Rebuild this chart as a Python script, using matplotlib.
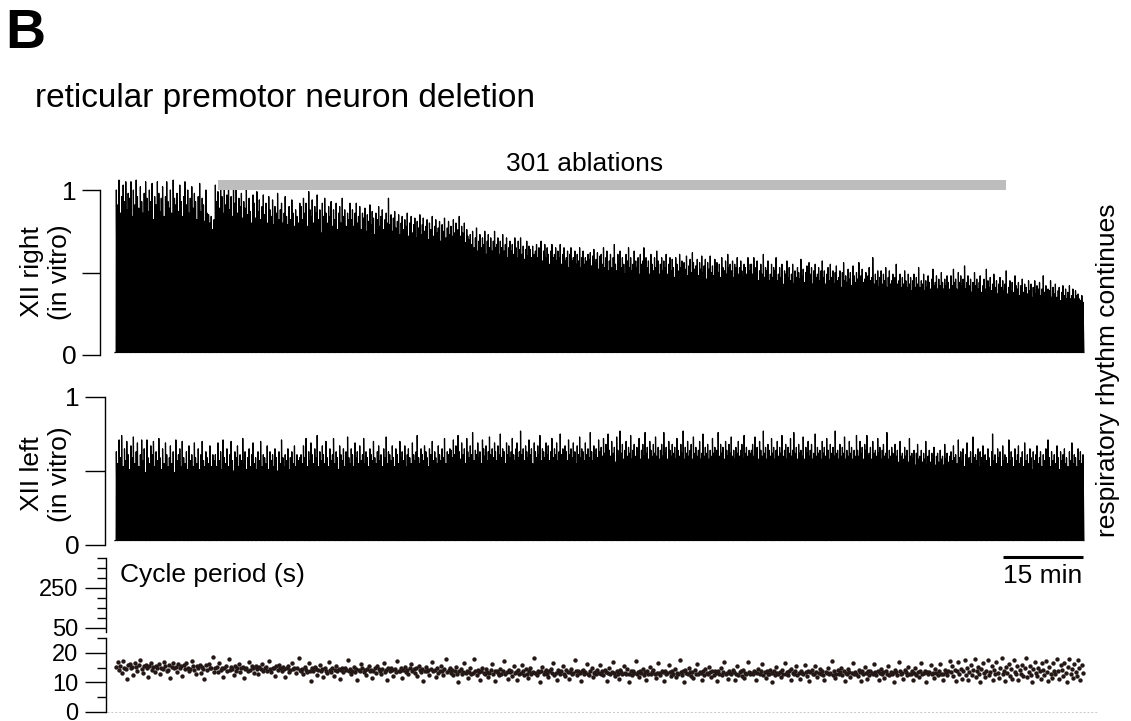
import numpy as np
import matplotlib
matplotlib.use('Agg')
import matplotlib.pyplot as plt

plt.rcParams['font.family'] = ['Liberation Sans', 'DejaVu Sans']

# cycle period of every respiratory burst (s), in recording order
cycle_period_s = [
    15.2, 16.8, 14.1, 15.6, 13.2, 17.1, 15.0, 14.4, 11.3, 15.8,
    16.2, 14.7, 15.3, 12.4, 16.5, 15.1, 14.0, 15.9, 17.4, 14.6,
    13.1, 15.4, 16.0, 14.8, 11.8, 15.5, 16.7, 14.3, 15.2, 13.6,
    15.7, 14.9, 16.3, 12.9, 15.0, 14.5, 17.0, 15.6, 13.9, 14.2,
    15.8, 11.5, 15.1, 16.4, 14.7, 15.3, 13.4, 16.1, 14.8, 15.5,
    12.2, 15.9, 14.4, 16.6, 15.0, 13.8, 14.6, 17.2, 15.4, 14.1,
    12.7, 15.7, 14.9, 16.0, 13.3, 15.2, 14.5, 11.1, 15.8, 14.3,
    16.2, 15.0, 14.7, 18.6, 13.5,
    14.8, 15.2, 13.6, 16.4, 14.1, 15.0, 11.9, 14.7, 15.5, 13.8,
    17.9, 14.3, 15.1, 14.6, 12.5, 15.7, 14.0, 14.9, 16.1, 13.4,
    14.8, 15.3, 11.4, 14.5, 15.0, 13.9, 16.8, 14.2, 15.4, 14.7,
    13.1, 15.6, 14.4, 12.8, 15.1, 14.6, 16.3, 13.7, 14.9, 15.2,
    14.0, 17.3, 14.5, 13.5, 15.0, 14.8, 12.1, 15.4, 14.3, 16.0,
    14.7, 13.8, 15.2, 14.4, 11.7, 14.9, 15.6, 13.6, 14.1, 16.6,
    14.5, 15.0, 13.3, 14.8, 18.1, 14.2,
    13.8, 14.6, 12.9, 15.1, 14.2, 13.5, 16.4, 14.0, 10.4, 14.7,
    13.9, 15.3, 14.4, 12.6, 14.1, 15.8, 13.7, 14.5, 11.9, 14.8,
    14.0, 13.3, 16.9, 14.3, 13.6, 14.9, 12.3, 14.2, 15.5, 13.8,
    14.6, 11.2, 14.1, 15.0, 13.4, 14.7, 14.3, 17.6, 13.9, 14.4,
    12.8, 14.0, 15.2, 13.6, 14.5, 10.8, 14.2, 13.7, 16.1, 14.8,
    13.5, 14.1, 12.4, 14.6, 15.4, 13.9, 14.3, 11.6, 14.0, 14.9,
    13.2, 15.7, 14.4, 13.8, 12.7, 14.5, 16.6, 13.6, 14.2, 10.9,
    14.7, 13.9, 15.0, 14.1, 12.2, 14.6, 13.4, 17.2, 14.0, 13.7,
    14.8, 11.5, 14.3, 15.3, 13.5, 14.2, 12.9, 14.9, 16.3, 13.8,
    14.4, 13.1, 14.7, 12.0, 15.6, 14.1, 13.6, 14.5, 10.6, 14.0,
    15.1, 13.9, 14.3, 12.5, 14.6, 16.8, 13.7, 14.2, 11.8, 14.8,
    13.3, 14.0, 15.4, 13.8, 12.6, 14.4, 17.9, 13.5, 14.1, 14.7,
    13.2, 14.1, 12.6, 13.8, 15.3, 13.0, 10.2, 13.7, 14.4, 12.9,
    13.5, 16.7, 13.1, 14.0, 11.4, 13.6, 14.8, 12.8, 13.3, 17.8,
    13.9, 12.4, 14.2, 13.4, 10.9, 13.8, 15.0, 13.1, 12.7, 14.5,
    13.6, 11.8, 13.2, 14.3, 16.2, 12.9, 13.7, 10.5, 14.0, 13.3,
    12.5, 14.6, 13.0, 13.9, 17.1, 12.8, 13.5, 11.2, 14.1, 13.4,
    13.8, 12.3, 15.4, 13.1, 13.6, 10.7, 14.2, 12.9, 13.3, 16.0,
    13.7, 12.6, 14.4, 13.0, 11.6, 13.9, 14.7, 12.8, 13.5, 18.2,
    13.2, 12.4, 14.0, 13.6, 10.3, 13.8, 15.2, 12.7, 13.4, 14.1,
    12.9, 11.9, 13.7, 14.5, 13.1, 16.5, 12.6, 13.3, 10.8, 14.3,
    13.5, 12.8, 13.9, 15.7, 13.0, 12.2, 14.1, 13.6, 11.3, 13.4,
    14.6, 12.9, 13.2, 17.4, 13.8, 12.5, 14.0, 13.1, 10.6, 13.7,
    14.2, 12.7, 13.5, 16.3, 13.0, 12.4, 13.9, 14.8, 11.7, 13.3,
    13.6, 12.8, 14.3, 13.1, 15.9,
    13.0, 13.8, 12.5, 14.2, 13.4, 10.4, 13.1, 14.9, 12.8, 13.6,
    16.8, 13.2, 12.3, 13.9, 13.0, 11.1, 14.1, 13.5, 12.7, 15.6,
    13.3, 12.9, 14.4, 13.0, 10.1, 13.7, 12.6, 14.0, 13.2, 17.3,
    12.8, 13.5, 11.8, 13.9, 13.1, 14.6, 12.4, 13.4, 10.9, 13.8,
    13.0, 15.2, 12.7, 13.6, 14.3, 12.9, 11.4, 13.3, 16.4, 13.1,
    12.5, 13.9, 13.4, 10.6, 14.0, 12.8, 13.2, 15.8, 13.6, 12.2,
    13.7, 13.0, 14.5, 11.7, 13.3, 12.9, 17.5, 13.5, 12.6, 13.8,
    10.3, 14.1, 13.1, 12.7, 14.8, 13.4, 12.3, 13.6, 11.5, 14.2,
    13.0, 16.1, 12.8, 13.5, 13.2, 10.8, 13.9, 12.5, 14.4, 13.1,
    12.9, 15.3, 13.4, 11.9, 13.7, 12.6, 14.0, 13.3, 10.5, 13.8,
    13.0, 14.7, 12.4, 13.5, 16.9, 12.8, 13.2, 11.3, 13.9, 13.1,
    12.7, 14.3, 13.6, 10.9, 13.0, 15.5, 12.5, 13.4, 13.8, 12.2,
    14.1, 11.6, 13.3, 12.9, 17.0, 13.5, 12.8,
    13.2, 12.7, 14.0, 13.5, 10.7, 13.1, 14.6, 12.9, 13.8, 16.2,
    12.6, 13.4, 11.5, 13.9, 13.0, 12.8, 14.3, 13.3, 10.2, 13.7,
    12.5, 15.1, 13.2, 12.9, 13.6, 11.8, 14.1, 13.0, 16.7, 12.7,
    13.5, 12.4, 13.9, 14.5, 10.9, 13.2, 12.8, 13.7, 15.4, 12.6,
    13.3, 11.2, 14.0, 13.1, 12.9, 16.0, 13.6, 12.3, 13.8, 10.5,
    13.4, 14.2, 12.7, 13.0, 15.7, 13.5, 11.9, 13.2, 14.4, 12.8,
    13.9, 12.5, 10.8, 13.6, 13.1, 14.8, 12.9, 13.3, 17.2, 12.6,
    13.7, 11.4, 13.0, 14.1, 12.8, 13.4, 15.0, 12.4, 13.8, 10.4,
    13.2, 12.9, 14.6, 13.5, 11.7, 13.1, 16.5, 12.7, 13.6, 13.0,
    12.3, 14.3, 13.4, 10.6, 13.9, 12.8, 15.3, 13.2, 11.1, 13.7,
    12.6, 14.0, 13.3, 12.9, 16.3, 13.5, 12.4, 13.8, 10.9, 13.1,
    14.5, 12.7, 13.4, 11.6, 13.9, 13.0, 15.6, 12.5, 13.6, 12.9,
    13.2, 10.3, 14.2, 13.4, 12.6, 17.0, 13.7, 12.8, 13.1, 11.3,
    14.1, 13.5, 12.4, 15.2, 13.0, 12.9, 13.8, 10.7, 13.3, 14.7,
    12.6, 13.5, 11.8, 13.9, 16.6, 12.8, 13.2, 14.0, 10.1, 13.6,
    12.7, 13.4, 15.8, 12.9, 13.1, 11.5, 14.4, 13.3, 12.5, 13.7,
    16.1, 12.8, 13.0, 10.8, 14.2, 13.5, 12.6, 13.9, 17.1,
    13.4, 15.6, 12.2, 14.1, 10.5, 13.7, 16.8, 12.9, 14.5, 11.3,
    13.9, 17.4, 12.6, 14.8, 10.9, 13.5, 15.9, 12.4, 14.2, 17.9,
    11.7, 13.8, 15.1, 12.8, 10.2, 14.6, 16.5, 13.1, 11.9, 14.0,
    17.7, 12.5, 13.6, 15.4, 10.7, 14.3, 12.9, 16.9, 13.2, 11.5,
    14.7, 18.2, 12.7, 13.9, 10.4, 15.2, 13.3, 16.3, 12.1, 14.4,
    11.0, 17.6, 13.6, 12.8, 15.7, 10.8, 14.1, 13.0, 16.0, 12.3,
    14.9, 18.4, 11.8, 13.4, 15.5, 12.6, 10.1, 14.6, 17.0, 13.1,
    12.0, 15.0, 13.8, 11.2, 16.7, 14.2, 12.4, 17.3, 13.5, 10.6,
    15.3, 13.0, 11.6, 16.4, 14.0, 12.7, 18.0, 13.7, 11.1, 15.8,
    14.3, 12.2, 16.6, 13.3, 10.3, 15.1, 17.8, 12.9, 14.5, 11.4,
    16.2, 13.6, 12.1, 17.5, 14.8, 10.9, 15.9, 13.2,
]

# peak integrated XII amplitude per burst, % of control maximum
xii_right = [
    100, 91, 106, 86, 96, 103, 93, 105, 88, 98,
    95, 105, 84, 100, 91, 106, 96, 89, 102, 93,
    86, 98, 105, 95, 87, 100, 93, 104, 82, 96,
    91, 105, 98, 87, 95, 102, 84, 96, 105, 93,
    89, 100, 86, 106, 95, 91, 98, 87, 103, 93,
    84, 96, 105, 91, 100, 86, 95, 102, 89, 98,
    93, 82, 96, 104, 87, 95, 91, 81, 100, 86,
    85, 80, 84, 76, 82,
    103, 93, 99, 89, 105, 96, 86, 101, 91, 97,
    104, 88, 96, 84, 100, 92, 102, 86, 95, 90,
    98, 83, 93, 89, 100, 85, 95, 87, 80, 97,
    92, 83, 99, 87, 94, 82, 90, 97, 85, 92,
    80, 96, 88, 84, 94, 79, 90, 86, 98, 82,
    88, 92, 80, 86, 96, 84, 79, 90, 82, 94,
    86, 78, 88, 84, 80, 92,
    90, 82, 95, 86, 92, 78, 99, 88, 84, 94,
    80, 90, 86, 97, 82, 88, 74, 92, 84, 95,
    86, 80, 90, 84, 93, 78, 88, 82, 92, 76,
    86, 90, 80, 95, 84, 88, 78, 86, 82, 92,
    82, 88, 78, 86, 92, 80, 84, 90, 76, 86,
    83, 89, 75, 85, 81, 91, 79, 87, 83, 73,
    86, 82, 90, 78, 84, 88, 76, 82, 86, 80,
    95, 79, 85, 75, 83, 87, 77, 81, 85, 73,
    80, 84, 76, 82, 78, 86, 72, 80, 84, 74,
    79, 83, 71, 81, 77, 85, 73, 79, 83, 75,
    78, 82, 70, 80, 76, 84, 72, 78, 82, 74,
    77, 81, 69, 79, 75, 83, 71, 77, 81, 73,
    78, 72, 82, 74, 80, 70, 76, 84, 72, 78,
    74, 80, 68, 76, 72, 70,
    73, 67, 75, 65, 71, 77, 63, 69, 73, 65,
    71, 67, 75, 61, 69, 73, 65, 71, 63, 69,
    75, 65, 67, 71, 61, 69, 65, 73, 63, 67,
    71, 59, 65, 69, 63, 67, 61, 71, 65, 59,
    69, 64, 71, 61, 66, 58, 64, 69, 60, 66,
    64, 59, 66, 61,
    63, 67, 59, 65, 61, 69, 57, 63, 67, 59,
    65, 61, 55, 63, 67, 59, 61, 65, 57, 63,
    59, 67, 55, 61, 65, 57, 59, 63, 53, 61,
    65, 57, 59, 63, 55, 61, 57, 65, 53, 59,
    63, 55, 59, 57, 61,
    58, 62, 54, 60, 64, 56, 58, 62, 52, 60,
    61, 55, 65, 53, 59, 63, 51, 57, 61, 53,
    59, 67, 55, 51, 61, 57, 63, 53, 59, 55,
    49, 61, 57, 65, 53, 59, 51, 55, 63, 57,
    53, 59, 49, 61, 55, 57, 65, 51, 59, 53,
    57, 49, 61, 55, 51, 59, 53, 63, 57, 49,
    55, 59, 51, 57, 53, 61, 49, 55, 59, 51,
    58, 53, 47, 59, 55, 51, 61, 53, 57, 49,
    56, 52, 60, 48, 54, 58, 50, 62, 56, 52,
    54, 58, 48, 56, 52, 60, 50, 54, 58, 46,
    56, 52, 60, 50, 54, 48, 58, 52, 56, 50,
    55, 47, 59, 53, 51, 57, 49, 61, 53, 55,
    51, 57, 47, 55, 53, 59, 49, 53, 57, 51,
    47, 55, 53, 49, 59, 51, 55,
    55, 49, 59, 47, 53, 57, 45, 51, 55, 49,
    61, 47, 53, 51, 57, 45, 49, 55, 47, 53,
    51, 59, 45, 49, 53, 47, 55, 43, 51, 49,
    57, 47, 53, 45, 49, 55, 43, 51, 47, 53,
    50, 46, 58, 48, 52, 44, 50, 54, 46, 56,
    49, 53, 43, 51, 55, 47, 49, 53, 45, 51,
    57, 47, 51, 43, 49, 53, 45, 55, 47, 51,
    43, 50, 54, 45, 47, 51, 41, 50, 56, 45,
    48, 44, 52, 46, 50, 42, 54, 48, 44, 50,
    46, 56, 42, 48, 52, 44, 46, 50, 42, 48,
    53, 45, 47, 59, 43, 49, 45, 51, 41, 47,
    51, 43, 49, 45, 53, 41, 47, 51, 43, 45,
    49, 41, 47, 55, 43, 45, 49, 41, 47, 43,
    51, 45, 41, 49, 43, 47, 39, 45, 49, 41,
    47, 43, 53, 41, 45, 43, 49, 39, 45, 41,
    48, 44, 40, 46, 52, 42, 44, 48, 40, 46,
    42, 50, 44, 40, 46, 42, 48, 44, 40,
    48, 42, 52, 44, 46, 40, 50, 44, 48, 42,
    46, 54, 40, 44, 48, 42, 46, 38, 44, 50,
    42, 46, 40, 44, 48, 38, 42, 46, 40, 52,
    45, 41, 47, 39, 43, 49, 41, 45, 37, 43,
    47, 41, 45, 39, 43, 51, 37, 41, 45, 39,
    44, 38, 48, 42, 40, 44, 36, 42, 46, 38,
    43, 41, 37, 45, 39, 43, 35, 41, 45, 37,
    42, 40, 44, 36, 40, 48, 38, 42, 36, 40,
    39, 45, 35, 41, 37, 43, 35, 39, 41, 33,
    38, 42, 36, 40, 34, 38, 42, 34, 36, 40,
    34, 39, 36, 37, 34, 33, 36, 32,
]

xii_left = [
    63, 55, 71, 59, 74, 53, 65, 57, 70, 61,
    51, 67, 59, 73, 55, 63, 69, 53, 61, 71,
    57, 65, 49, 71, 59, 55, 67, 61, 70, 53,
    63, 57, 72, 59, 51, 65, 55, 69, 61, 53,
    59, 67, 55, 63, 49, 71, 57, 61, 65, 53,
    70, 59, 55, 63, 51, 67, 57, 61, 53, 69,
    59, 55, 65, 51, 61, 70, 57, 53, 63, 59,
    55, 67, 53, 61, 57,
    61, 53, 69, 57, 63, 51, 71, 59, 55, 65,
    53, 61, 70, 57, 50, 63, 59, 67, 53, 61,
    57, 72, 55, 63, 51, 59, 65, 53, 61, 69,
    55, 59, 51, 63, 57, 70, 53, 61, 59, 55,
    67, 51, 63, 57, 61, 53, 65, 59, 50, 63,
    55, 71, 59, 53, 61, 57, 65, 51, 59, 63,
    55, 67, 53, 61, 57, 59,
    61, 55, 67, 59, 72, 53, 63, 57, 69, 61,
    55, 65, 59, 74, 53, 63, 57, 67, 61, 55,
    70, 59, 53, 65, 57, 61, 72, 55, 63, 59,
    51, 67, 61, 57, 65, 53, 63, 73, 59, 55,
    65, 61, 53, 69, 59, 63, 55, 67, 57, 61,
    72, 55, 63, 59, 53, 65, 61, 57, 70, 59,
    55, 63, 67, 57, 61, 53, 65, 59, 73, 55,
    63, 61, 57, 67, 59, 53, 65, 61, 55, 70,
    59, 63, 57, 67, 53, 61, 65, 59, 55, 69,
    61, 57, 63, 74, 59, 55, 65, 61, 57, 67,
    63, 59, 53, 65, 61, 70, 57, 63, 59, 55,
    67, 61, 57, 65, 59, 72, 55, 63, 61, 65,
    64, 59, 71, 61, 67, 57, 74, 63, 58, 69,
    61, 65, 55, 72, 63, 59, 67, 61, 76, 57,
    64, 61, 69, 59, 63, 55, 71, 65, 60, 67,
    57, 63, 73, 61, 65, 59, 69, 63, 57, 67,
    61, 75, 59, 65, 63, 55, 69, 61, 67, 59,
    63, 72, 61, 57, 65, 69, 59, 63, 77, 61,
    65, 57, 67, 63, 59, 71, 61, 65, 55, 69,
    63, 59, 67, 61, 74, 57, 65, 63, 59, 69,
    61, 67, 57, 63, 72, 59, 65, 61, 69, 57,
    63, 75, 61, 65, 59, 67, 63, 57, 71, 61,
    65, 59, 69, 63, 55, 67, 61, 73, 59, 65,
    63, 57, 69, 61, 65, 59, 76, 63, 57, 67,
    61, 65, 59, 71, 63,
    66, 60, 72, 62, 68, 58, 75, 64, 60, 70,
    62, 66, 56, 73, 64, 60, 77, 62, 68, 58,
    64, 70, 60, 66, 62, 74, 58, 64, 68, 60,
    66, 62, 72, 58, 64, 68, 60, 76, 62, 66,
    58, 70, 64, 60, 68, 62, 73, 60, 66, 58,
    64, 68, 60, 76, 62, 66, 58, 70, 64, 60,
    68, 62, 66, 58, 72, 64, 60, 68, 62, 77,
    58, 66, 62, 70, 60, 64, 68, 58, 73, 62,
    66, 60, 64, 70, 58, 62, 75, 60, 66, 62,
    68, 58, 64, 60, 72, 62, 66, 58, 64, 76,
    60, 68, 62, 66, 58, 70, 64, 60, 68, 62,
    73, 60, 64, 58, 66, 62, 70, 60, 64, 68,
    58, 74, 62, 66, 60, 64, 62,
    64, 68, 60, 73, 62, 66, 58, 70, 64, 60,
    77, 62, 66, 58, 68, 64, 60, 72, 62, 66,
    58, 64, 70, 60, 66, 62, 74, 60, 64, 68,
    58, 66, 62, 72, 60, 64, 76, 62, 66, 58,
    68, 62, 64, 60, 73, 58, 66, 62, 70, 60,
    64, 68, 58, 62, 75, 60, 66, 62, 64, 58,
    70, 62, 66, 60, 72, 64, 58, 68, 62, 66,
    60, 77, 62, 64, 58, 68, 60, 66, 62, 73,
    58, 64, 60, 70, 62, 66, 58, 64, 60, 74,
    64, 60, 70, 62, 66, 58, 68, 64, 74, 60,
    62, 66, 58, 70, 62, 64, 60, 72, 62, 66,
    58, 64, 68, 60, 62, 76, 58, 64, 60, 66,
    62, 58, 68, 60, 64, 56, 70, 60, 62, 58,
    66, 60, 64, 56, 72, 60, 62, 58, 64, 54,
    62, 68, 58, 60, 64, 56, 62, 58, 70, 54,
    60, 64, 56, 62, 58, 66, 54, 60, 62, 56,
    64, 58, 60, 54, 68, 58, 62, 56, 60,
    63, 57, 67, 59, 61, 55, 71, 59, 63, 57,
    65, 53, 61, 69, 57, 59, 63, 55, 73, 59,
    61, 57, 65, 53, 63, 59, 67, 55, 61, 57,
    65, 59, 53, 63, 75, 57, 61, 55, 65, 59,
    63, 53, 67, 57, 61, 59, 55, 71, 57, 63,
    59, 53, 65, 57, 61, 67, 55, 59, 63, 53,
    69, 57, 61, 55, 65, 59, 51, 63, 57, 61,
    67, 55, 59, 63, 53, 61, 57, 65, 55, 71,
    59, 53, 63, 57, 61, 55, 67, 59, 51, 63,
    57, 61, 65, 55, 59, 53, 63, 57, 69, 55,
    61, 59, 53, 65, 57, 63, 55, 61,
]

ablation_min = (19.3, 167.4)   # laser ablation period
scale_min = 15

period = np.array(cycle_period_s)
burst_t = np.cumsum(period)
t_end = burst_t[-1] / 60


def burst_trace(amps, base):
    # each burst: fast rise, slower decay back to baseline
    a = np.asarray(amps) / 100.0
    b = np.full_like(a, base)
    xs = np.column_stack([burst_t - 2.0, burst_t, burst_t + 10.0]).ravel()
    ys = np.column_stack([b, a, b]).ravel()
    xs = np.concatenate([[0.0], xs, [burst_t[-1] + 10.0]])
    ys = np.concatenate([[base], ys, [base]])
    return xs / 60, ys


W, H = 1131, 721
fig = plt.figure(figsize=(W / 100, H / 100), dpi=100)


def px_axes(left, top, bottom, right=1083):
    return fig.add_axes([left / W, (H - bottom) / H, (right - left) / W, (bottom - top) / H])


ax_r = px_axes(115, 190, 355)
ax_l = px_axes(115, 397, 545)
ax_hi = px_axes(115, 558, 632)
ax_lo = px_axes(115, 638, 712)

for ax, off in [(ax_r, 10.8), (ax_l, 7.2), (ax_hi, 6.5), (ax_lo, 6.5)]:
    for s in ['top', 'right', 'bottom']:
        ax.spines[s].set_visible(False)
    ax.spines['left'].set_position(('outward', off))
    ax.spines['left'].set_linewidth(1.0)
    ax.set_xticks([])
    ax.set_xlim(0, t_end)
    ax.patch.set_alpha(0)

# integrated XII traces
for ax, amps, base, tl in [(ax_r, xii_right, 0.015, 13), (ax_l, xii_left, 0.03, 14.4)]:
    x, y = burst_trace(amps, base)
    ax.plot(x, y, color='black', lw=0.9, clip_on=False)
    ax.set_ylim(0, 1)
    ax.set_yticks([0, 0.5, 1])
    ax.set_yticklabels(['0', '', '1'])
    ax.tick_params(axis='y', length=tl, width=1.0, labelsize=19, pad=4)

fig.text(46 / W, 1 - 272 / H, 'XII right\n(in vitro)', fontsize=19, rotation=90,
         ha='center', va='center', multialignment='center')
fig.text(46 / W, 1 - 474 / H, 'XII left\n(in vitro)', fontsize=19, rotation=90,
         ha='center', va='center', multialignment='center')

# ablation bar
ax_r.plot(ablation_min, [1.03, 1.03], color='#bdbdbd', lw=7.2, solid_capstyle='butt', clip_on=False)
ax_r.text(0.4855, 1.115, '301 ablations', transform=ax_r.transAxes, ha='center', va='baseline', fontsize=19)

# time scale bar
ax_l.plot([t_end - scale_min, t_end], [-0.081, -0.081], color='black', lw=2.2, solid_capstyle='butt', clip_on=False)
ax_l.text(t_end - scale_min / 2, -0.257, '%d min' % scale_min, ha='center', va='baseline', fontsize=19)

# cycle period, broken y axis
ax_lo.scatter(burst_t / 60, period, s=10, color='#231815', linewidths=0, clip_on=False, zorder=3)
ax_lo.axhline(0, xmin=-0.008, xmax=1.015, color='#c8c8c8', lw=0.7, ls=(0, (2, 2)), clip_on=False)
ax_lo.set_ylim(0, 25)
ax_lo.set_yticks([0, 10, 20])
ax_lo.set_yticks([5, 15, 25], minor=True)
ax_hi.set_ylim(30, 400)
ax_hi.set_yticks([50, 250])
ax_hi.set_yticks([100, 150, 200, 300, 350, 400], minor=True)
for ax in (ax_lo, ax_hi):
    ax.tick_params(axis='y', which='major', length=15, width=1.0, labelsize=17, pad=5)
    ax.tick_params(axis='y', which='minor', length=6.5, width=1.0)

fig.text(120 / W, 1 - 582 / H, 'Cycle period (s)', fontsize=19, va='baseline')

fig.text(5 / W, 1 - 48 / H, 'B', fontsize=40, fontweight='bold', va='baseline')
fig.text(35 / W, 1 - 107 / H, 'reticular premotor neuron deletion', fontsize=24, va='baseline')
fig.text(1108 / W, 1 - 370 / H, 'respiratory rhythm continues', fontsize=19,
         rotation=90, ha='center', va='center')

fig.savefig('out.png', dpi=100)
